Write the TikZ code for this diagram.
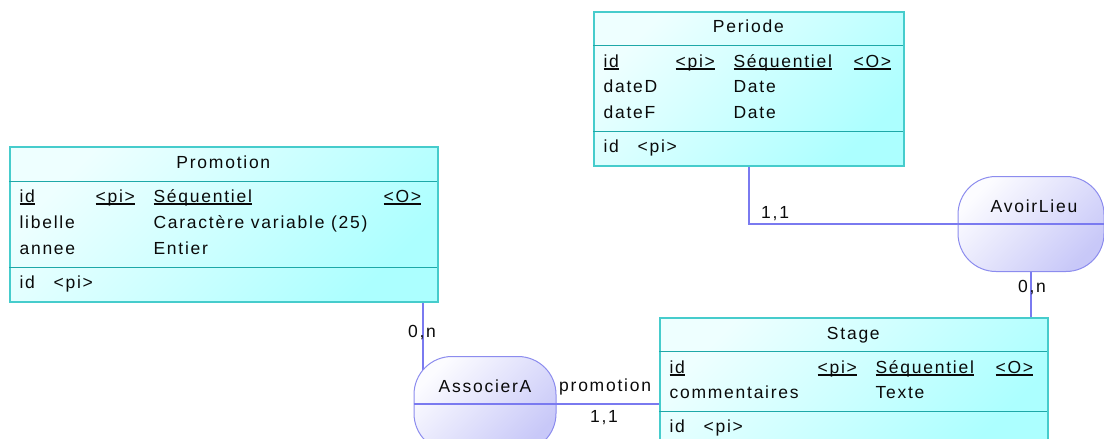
\documentclass[tikz,border=0pt]{standalone}
\usepackage{fontspec}
\setmainfont{Liberation Sans}[LetterSpace=10]
\usetikzlibrary{backgrounds}
\definecolor{entborder}{RGB}{70,204,204}
\definecolor{entsep}{RGB}{30,168,168}
\definecolor{entlight}{RGB}{238,255,255}
\definecolor{entdark}{RGB}{172,255,255}
\definecolor{assolight}{RGB}{252,252,255}
\definecolor{assodark}{RGB}{200,200,248}
\definecolor{assoborder}{RGB}{140,140,238}
\definecolor{linkcol}{RGB}{122,122,240}
\definecolor{txt}{RGB}{10,10,10}
% underlined identifier
\newcommand{\pk}[1]{\setbox0\hbox{#1}\rlap{\rule[-2.4pt]{\wd0}{1.3pt}}\box0}

\begin{document}
\begin{tikzpicture}[
            x = 1pt, y = -1pt, % pixel grid, y downwards
            entity/.style = {draw = entborder, line width = 1.3pt, top color = entlight,
                bottom color = entdark, shading angle = 45, inner sep = 0pt},
            assoc/.style = {draw = assoborder, line width = 1pt, rounded corners = 38pt,
                top color = assolight, bottom color = assodark, shading angle = 45,
                minimum height = 95pt, inner sep = 0pt},
            divider/.style = {draw = entsep, line width = 1.5pt},
            link/.style = {draw = linkcol, line width = 2pt},
            enttitle/.style = {anchor = base, inner sep = 0pt, text = txt,
                font = \fontsize{17.5}{20}\selectfont},
            attr/.style = {enttitle, anchor = base west},
            card/.style = {enttitle}
        ]

        \useasboundingbox (0,0) rectangle (1104,439);
        \clip (0,0) rectangle (1104,439);

        % entities
        \node[entity, minimum width = 310pt, minimum height = 154pt] (periode) at (749,89) {};
        \node[entity, minimum width = 428pt, minimum height = 155pt] (promotion) at (224,224.5) {};
        \node[entity, minimum width = 388pt, minimum height = 129pt] (stage) at (854,382.5) {};

        % associations
        \node[assoc, minimum width = 142pt] (associera) at (485,404) {};
        \node[assoc, minimum width = 146pt] (avoirlieu) at (1031,224) {};
        \draw[link, line width = 1.5pt] (associera.west) -- (associera.east);
        \draw[link, line width = 1.5pt] (avoirlieu.west) -- (avoirlieu.east);
        \node[card] (associera-t) at ([yshift=12pt]associera.center) {AssocierA};
        \node[card] (avoirlieu-t) at ([xshift=3pt,yshift=12pt]avoirlieu.center) {AvoirLieu};

        % Periode
        \begin{scope}[shift={(periode.north west)}]
            \node[enttitle] (per-t) at (155,21) {Periode};
            \draw[divider] (0,34) -- (310,34);
            \draw[divider] (0,120) -- (310,120);
            \node[attr] (per-id) at (10,56) {\pk{id}};
            \node[attr] (per-pi) at (82,56) {\pk{<pi>}};
            \node[attr] (per-seq) at (140,56) {\pk{Séquentiel}};
            \node[attr] (per-o) at (260,56) {\pk{<O>}};
            \node[attr] (per-dd) at (10,81.5) {dateD};
            \node[attr] (per-ddt) at (140,81.5) {Date};
            \node[attr] (per-df) at (10,107) {dateF};
            \node[attr] (per-dft) at (140,107) {Date};
            \node[attr] (per-k) at (10,141) {id};
            \node[attr] (per-kpi) at (44,141) {<pi>};
        \end{scope}

        % Promotion
        \begin{scope}[shift={(promotion.north west)}]
            \node[enttitle] (pro-t) at (214,22) {Promotion};
            \draw[divider] (0,35) -- (428,35);
            \draw[divider] (0,121) -- (428,121);
            \node[attr] (pro-id) at (10,56) {\pk{id}};
            \node[attr] (pro-pi) at (86,56) {\pk{<pi>}};
            \node[attr] (pro-seq) at (144,56) {\pk{Séquentiel}};
            \node[attr] (pro-o) at (374,56) {\pk{<O>}};
            \node[attr] (pro-lib) at (10,82) {libelle};
            \node[attr] (pro-libt) at (144,82) {Caractère variable (25)};
            \node[attr] (pro-an) at (10,108) {annee};
            \node[attr] (pro-ant) at (144,108) {Entier};
            \node[attr] (pro-k) at (10,142) {id};
            \node[attr] (pro-kpi) at (44,142) {<pi>};
        \end{scope}

        % Stage
        \begin{scope}[shift={(stage.north west)}]
            \node[enttitle] (sta-t) at (194,22) {Stage};
            \draw[divider] (0,34) -- (388,34);
            \draw[divider] (0,94) -- (388,94);
            \node[attr] (sta-id) at (10,56) {\pk{id}};
            \node[attr] (sta-pi) at (158,56) {\pk{<pi>}};
            \node[attr] (sta-seq) at (216,56) {\pk{Séquentiel}};
            \node[attr] (sta-o) at (336,56) {\pk{<O>}};
            \node[attr] (sta-com) at (10,81) {commentaires};
            \node[attr] (sta-comt) at (216,81) {Texte};
            \node[attr] (sta-k) at (10,115) {id};
            \node[attr] (sta-kpi) at (44,115) {<pi>};
        \end{scope}

        % links
        \begin{scope}[on background layer]
            \coordinate (pa) at ([xshift=-16pt]promotion.south east);
            \draw[link] (pa) -- (pa |- associera.center);
            \draw[link] (associera.east) -- (associera.east -| stage.west);
            \draw[link] (periode.south) |- (avoirlieu.west);
            \draw[link] (avoirlieu.south) -- (avoirlieu.south |- stage.north);
        \end{scope}

        % cardinalities
        \node[card] (c-pro) at (422,337) {0,n};
        \node[card, anchor = base west] (c-role) at (559,391) {promotion};
        \node[card] (c-sta) at (604,422) {1,1};
        \node[card, anchor = base west] (c-per) at (761,218) {1,1};
        \node[card] (c-lieu) at (1032,292) {0,n};

\end{tikzpicture}
\end{document}
